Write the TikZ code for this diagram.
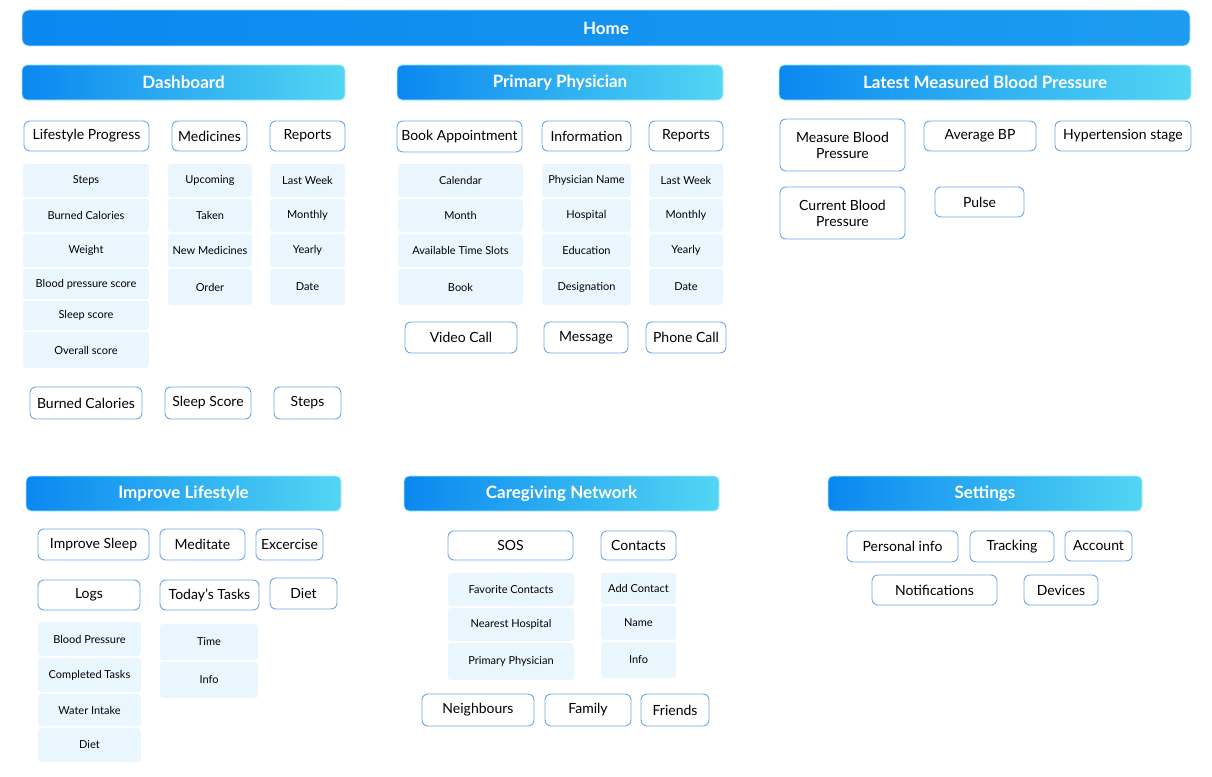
\documentclass[tikz,border=0pt]{standalone}
\usepackage{fontspec}
\setmainfont{Lato}
\begin{document}
\definecolor{hb}{HTML}{0A88F0}
\definecolor{hc}{HTML}{52D6F2}
\definecolor{cellc}{HTML}{EAF6FE}
\definecolor{brd}{HTML}{6AA9E8}
\tikzset{
 hdr/.style={rounded corners=5pt,left color=hb,right color=hc,draw=hc!50,line width=0.8pt,text=white,font=\bfseries\fontsize{17}{20}\selectfont},
 itm/.style={rounded corners=6pt,fill=white,draw=brd,line width=0.9pt,font=\fontsize{14}{16}\selectfont,align=center},
 cel/.style={rounded corners=3pt,fill=cellc,draw=none,font=\fontsize{11}{13}\selectfont},
}
\newcommand\bx[7]{\draw[#1] (#3,#4) rectangle node[align=center] (#2) {#7} (#5,#6);}
\begin{tikzpicture}[x=1pt,y=-1pt]
\useasboundingbox (0,0) rectangle (1212,776);
\bx{hdr,rounded corners=7pt,left color=hb,right color=hb!75!hc,draw=hb!25}{home}{22}{10}{1190}{46}{Home}
\bx{hdr}{dash}{22}{65}{345}{100}{Dashboard}
\bx{hdr}{pp}{397}{65}{723}{100}{Primary Physician}
\bx{hdr}{lbp}{779}{65}{1191}{100}{Latest Measured Blood Pressure}
\bx{hdr}{il}{26}{476}{341}{511}{Improve Lifestyle}
\bx{hdr}{cn}{404}{476}{719}{511}{Caregiving Network}
\bx{hdr}{set}{828}{476}{1142}{511}{Settings}
% dashboard
\bx{itm}{lp}{24}{121}{149}{151}{Lifestyle Progress}
\bx{itm}{med}{172}{121}{247}{151}{Medicines}
\bx{itm}{rep}{270}{121}{345}{151}{Reports}
\bx{cel}{c1}{23}{164}{149}{197}{Steps}
\bx{cel}{c2}{23}{199}{149}{232}{Burned Calories}
\bx{cel}{c3}{23}{234}{149}{267}{Weight}
\bx{cel}{c4}{23}{269}{149}{299}{Blood pressure score}
\bx{cel}{c5}{23}{301}{149}{330}{Sleep score}
\bx{cel}{c6}{23}{332}{149}{368}{Overall score}
\bx{cel}{m1}{168}{164}{252}{197}{Upcoming}
\bx{cel}{m2}{168}{199}{252}{232}{Taken}
\bx{cel}{m3}{168}{234}{252}{267}{New Medicines}
\bx{cel}{m4}{168}{269}{252}{305}{Order}
\bx{cel}{r1}{270}{164}{345}{197}{Last Week}
\bx{cel}{r2}{270}{199}{345}{232}{Monthly}
\bx{cel}{r3}{270}{234}{345}{267}{Yearly}
\bx{cel}{r4}{270}{269}{345}{305}{Date}
\bx{itm}{bc}{30}{387}{142}{419}{Burned Calories}
\bx{itm}{ss}{165}{387}{251}{419}{Sleep Score}
\bx{itm}{st}{274}{387}{341}{419}{Steps}
% primary physician
\bx{itm}{ba}{397}{121}{522}{152}{Book Appointment}
\bx{itm}{inf}{542}{121}{631}{151}{Information}
\bx{itm}{rep2}{649}{121}{723}{151}{Reports}
\bx{cel}{b1}{398}{164}{523}{197}{Calendar}
\bx{cel}{b2}{398}{199}{523}{232}{Month}
\bx{cel}{b3}{398}{234}{523}{267}{Available Time Slots}
\bx{cel}{b4}{398}{269}{523}{305}{Book}
\bx{cel}{i1}{542}{164}{631}{197}{Physician Name}
\bx{cel}{i2}{542}{199}{631}{232}{Hospital}
\bx{cel}{i3}{542}{234}{631}{267}{Education}
\bx{cel}{i4}{542}{269}{631}{305}{Designation}
\bx{cel}{q1}{649}{164}{723}{197}{Last Week}
\bx{cel}{q2}{649}{199}{723}{232}{Monthly}
\bx{cel}{q3}{649}{234}{723}{267}{Yearly}
\bx{cel}{q4}{649}{269}{723}{305}{Date}
\bx{itm}{vc}{405}{322}{517}{353}{Video Call}
\bx{itm}{msg}{544}{322}{628}{353}{Message}
\bx{itm}{pc}{646}{322}{726}{353}{Phone Call}
% latest BP
\bx{itm}{mbp}{780}{119}{905}{171}{Measure Blood\\Pressure}
\bx{itm}{abp}{924}{121}{1036}{151}{Average BP}
\bx{itm}{hs}{1055}{121}{1191}{151}{Hypertension stage}
\bx{itm}{cbp}{780}{187}{905}{239}{Current Blood\\Pressure}
\bx{itm}{pul}{935}{187}{1024}{217}{Pulse}
% improve lifestyle
\bx{itm}{is}{38}{529}{149}{560}{Improve Sleep}
\bx{itm}{medi}{160}{529}{245}{560}{Meditate}
\bx{itm}{ex}{256}{529}{323}{560}{Excercise}
\bx{itm}{logs}{38}{580}{140}{610}{Logs}
\bx{itm}{tt}{160}{580}{259}{610}{Today's Tasks}
\bx{itm}{diet}{270}{578}{337}{609}{Diet}
\bx{cel}{l1}{38}{622}{141}{656}{Blood Pressure}
\bx{cel}{l2}{38}{658}{141}{692}{Completed Tasks}
\bx{cel}{l3}{38}{694}{141}{726}{Water Intake}
\bx{cel}{l4}{38}{728}{141}{762}{Diet}
\bx{cel}{t1}{160}{624}{258}{660}{Time}
\bx{cel}{t2}{160}{662}{258}{698}{Info}
% caregiving
\bx{itm}{sos}{448}{531}{573}{560}{SOS}
\bx{itm}{con}{601}{531}{676}{560}{Contacts}
\bx{cel}{s1}{448}{573}{574}{606}{Favorite Contacts}
\bx{cel}{s2}{448}{608}{574}{641}{Nearest Hospital}
\bx{cel}{s3}{448}{643}{574}{680}{Primary Physician}
\bx{cel}{k1}{601}{573}{676}{604}{Add Contact}
\bx{cel}{k2}{601}{606}{676}{640}{Name}
\bx{cel}{k3}{601}{642}{676}{678}{Info}
\bx{itm}{nb}{422}{694}{534}{726}{Neighbours}
\bx{itm}{fam}{545}{694}{631}{726}{Family}
\bx{itm}{fr}{641}{694}{709}{726}{Friends}
% settings
\bx{itm}{pi}{847}{531}{958}{562}{Personal info}
\bx{itm}{tr}{970}{531}{1054}{562}{Tracking}
\bx{itm}{acc}{1065}{531}{1132}{561}{Account}
\bx{itm}{not}{872}{575}{997}{605}{Notifications}
\bx{itm}{dev}{1024}{575}{1098}{605}{Devices}
\end{tikzpicture}
\end{document}
